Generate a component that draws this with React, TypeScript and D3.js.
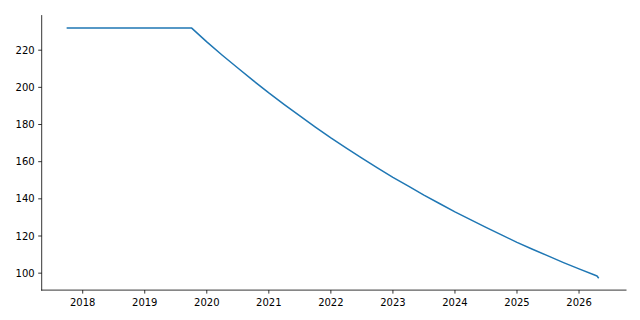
import React from "react";
import * as d3 from "d3";

// fractional years and values
const years = [
  2017.753, 2019.757, 2020.0, 2020.25, 2020.5, 2020.75, 2021.0, 2021.25, 2021.5, 2021.75,
  2022.0, 2022.25, 2022.5, 2022.75, 2023.0, 2023.25, 2023.5, 2023.75, 2024.0, 2024.25,
  2024.5, 2024.75, 2025.0, 2025.25, 2025.5, 2025.75, 2026.0, 2026.25, 2026.29, 2026.31,
];
const values = [
  231.9, 231.9, 224.5, 217.3, 210.4, 203.6, 197.0, 190.7, 184.6, 178.6,
  172.8, 167.3, 161.9, 156.7, 151.6, 146.8, 142.0, 137.5, 133.0, 128.8,
  124.6, 120.6, 116.6, 112.9, 109.3, 105.7, 102.3, 99.0, 98.5, 97.6,
];
const xTicks = [2018, 2019, 2020, 2021, 2022, 2023, 2024, 2025, 2026];
const yTicks = [100, 120, 140, 160, 180, 200, 220];
const xDomain = [2017.339, 2026.757];

const W = 640;
const H = 320;
const left = 41.7;
const right = 626;
const top = 15.6;
const bottom = 290.1;

export default function App() {
  const yMin = d3.min(values)!;
  const yMax = d3.max(values)!;
  const yPad = (yMax - yMin) * 0.05;
  const x = d3.scaleLinear().domain(xDomain).range([left, right]);
  const y = d3.scaleLinear().domain([yMin - yPad, yMax + yPad]).range([bottom, top]);
  const data = years.map((t, i) => [t, values[i]] as [number, number]);
  const line = d3
    .line<[number, number]>()
    .x((d) => x(d[0]))
    .y((d) => y(d[1]))
    .curve(d3.curveLinear);

  const font = "DejaVu Sans, sans-serif";
  return (
    <svg
      width={W}
      height={H}
      style={{ position: "absolute", left: 0, top: 0, background: "#fff" }}
    >
      <rect x={0} y={0} width={W} height={H} fill="#fff" />
      <path d={line(data)!} fill="none" stroke="#1f77b4" strokeWidth={1.5} strokeLinejoin="round" strokeLinecap="square" />
      <line x1={left} x2={left} y1={top} y2={bottom} stroke="#000" strokeWidth={0.8} strokeLinecap="square" />
      <line x1={left} x2={right} y1={bottom} y2={bottom} stroke="#000" strokeWidth={0.8} strokeLinecap="square" />
      {xTicks.map((t) => (
        <g key={"x" + t}>
          <line x1={x(t)} x2={x(t)} y1={bottom} y2={bottom + 3.5} stroke="#000" strokeWidth={0.8} />
          <text x={x(t)} y={bottom + 15.6} textAnchor="middle" fontFamily={font} fontSize={10} fill="#000">
            {t}
          </text>
        </g>
      ))}
      {yTicks.map((t) => (
        <g key={"y" + t}>
          <line x1={left - 3.5} x2={left} y1={y(t)} y2={y(t)} stroke="#000" strokeWidth={0.8} />
          <text x={left - 7} y={y(t) + 3.6} textAnchor="end" fontFamily={font} fontSize={10} fill="#000">
            {t}
          </text>
        </g>
      ))}
    </svg>
  );
}
